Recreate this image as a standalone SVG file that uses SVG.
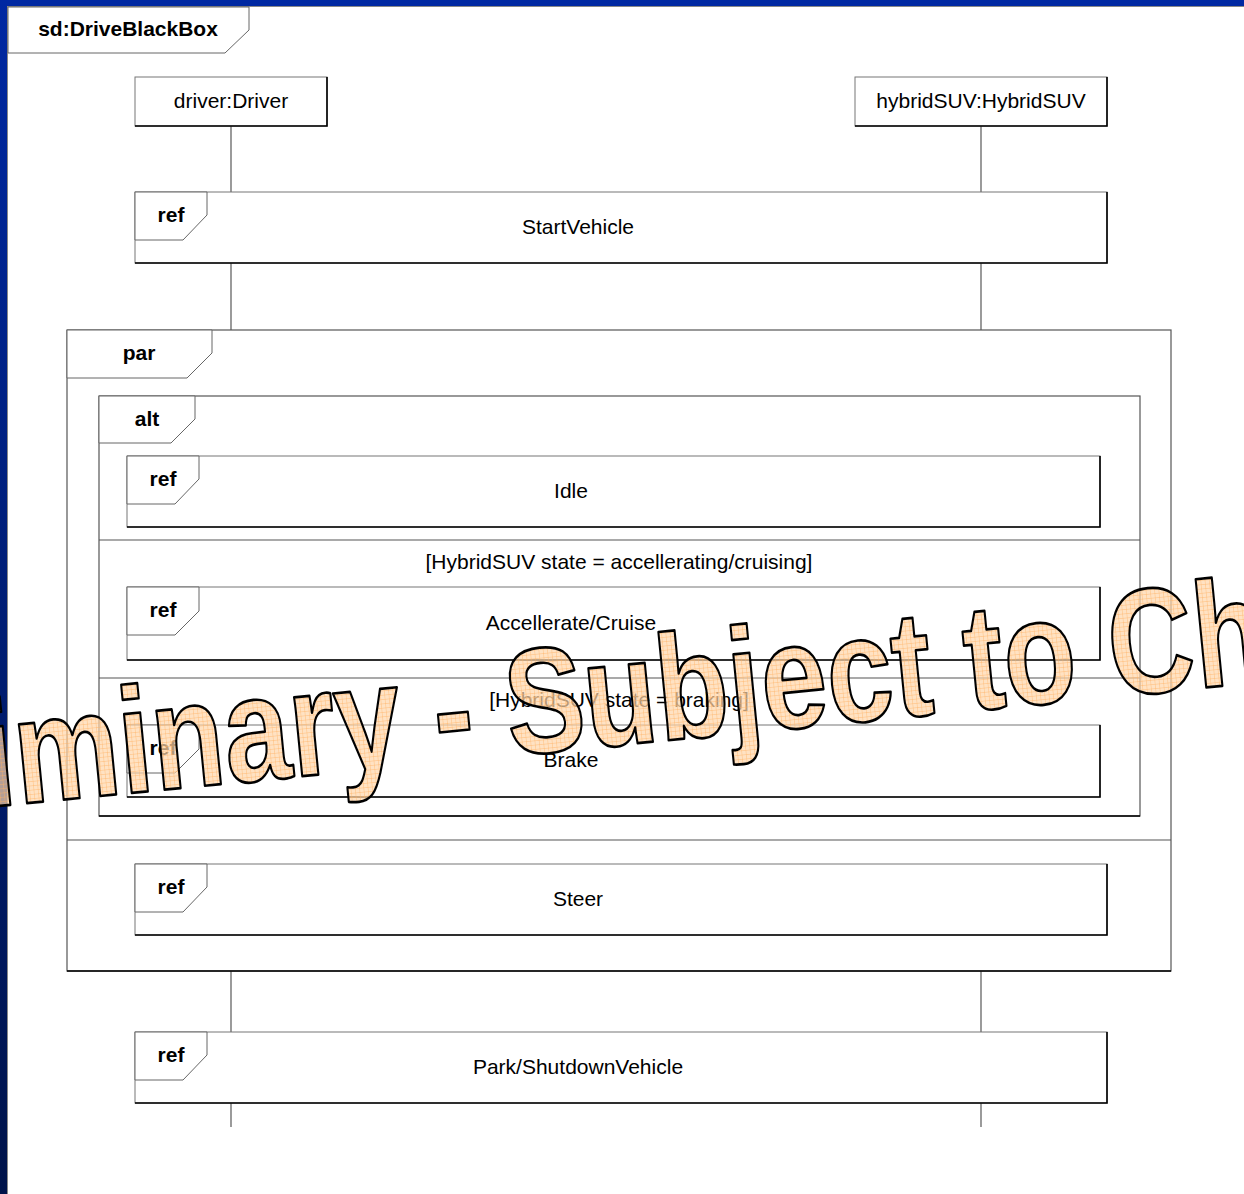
<svg xmlns="http://www.w3.org/2000/svg" width="1244" height="1194" viewBox="0 0 1244 1194">
  <style>
    text { font-family: "Liberation Sans", Arial, sans-serif; font-size: 21px; fill: #000; }
    .kw { font-weight: bold; text-anchor: middle; }
    .lbl { text-anchor: middle; }
    .box { fill: #fff; stroke: #777; stroke-width: 1; }
    .shade { fill: none; stroke: #000; stroke-width: 1.6; }
    .tag { fill: #fff; stroke: #666; stroke-width: 1; }
    .frame { fill: none; stroke: #555; stroke-width: 1.2; }
    .sep { fill: none; stroke: #555; stroke-width: 1.2; }
    .life { stroke: #666; stroke-width: 1.3; fill: none; }
    .wm { font-family: "Liberation Sans", Arial, sans-serif; font-weight: bold; font-size: 150px; fill: url(#grid); stroke: #000; stroke-width: 2.4; stroke-linejoin: round; }
  </style>
  <defs>
    <linearGradient id="edgeV" x1="0" y1="0" x2="0" y2="1">
      <stop offset="0" stop-color="#0028a2"/>
      <stop offset="1" stop-color="#00134a"/>
    </linearGradient>
    <pattern id="grid" patternUnits="userSpaceOnUse" width="5.4" height="4.3">
      <rect width="5.4" height="4.3" fill="#ffd6aa" fill-opacity="0.7"/>
      <path d="M0 0.3 H5.4 M0.3 0 V4.3" stroke="#ffb060" stroke-width="0.6" stroke-opacity="0.85"/>
    </pattern>
  </defs>

  <!-- page -->
  <rect width="1244" height="1194" fill="#fff"/>
  <rect x="0" y="0" width="1244" height="6" fill="#0028a2"/>
  <rect x="0" y="0" width="7" height="1194" fill="url(#edgeV)"/>
  <path d="M7 6.5 H1244 M7.5 6 V1194" stroke="#888" stroke-width="1"/>

  <!-- sequence diagram frame header -->
  <g id="frame-sd">
    <polygon class="tag" points="8,7 249,7 249,30 225,53 8,53"/>
    <text class="kw" x="128" y="36">sd:DriveBlackBox</text>
  </g>

  <!-- lifelines -->
  <g id="connectors">
    <path class="life" d="M231 126 V192 M231 263 V330 M231 971 V1032 M231 1103 V1127"/>
    <path class="life" d="M981 126 V192 M981 263 V330 M981 971 V1032 M981 1103 V1127"/>
  </g>

  <g id="lifeline-driver">
    <rect class="box" x="135" y="77" width="192" height="49"/>
    <path class="shade" d="M135 126 H327 V77"/>
    <text class="lbl" x="231" y="108">driver:Driver</text>
  </g>
  <g id="lifeline-hybridSUV">
    <rect class="box" x="855" y="77" width="252" height="49"/>
    <path class="shade" d="M855 126 H1107 V77"/>
    <text class="lbl" x="981" y="108">hybridSUV:HybridSUV</text>
  </g>

  <g id="ref-startvehicle">
    <rect class="box" x="135" y="192" width="972" height="71"/>
    <path class="shade" d="M135 263 H1107 V192"/>
    <polygon class="tag" points="135,192 207,192 207,215 183,240 135,240"/>
    <text class="kw" x="171" y="222">ref</text>
    <text class="lbl" x="578" y="234">StartVehicle</text>
  </g>

  <g id="par-fragment">
    <rect class="frame" x="67" y="330" width="1104" height="641"/>
    <path class="shade" d="M67 971 H1171" stroke-width="1.3"/>
    <polygon class="tag" points="67,330 212,330 212,353 187,378 67,378"/>
    <text class="kw" x="139" y="360">par</text>
    <path class="sep" d="M67 840 H1171"/>
  </g>

  <g id="alt-fragment">
    <rect class="frame" x="99" y="396" width="1041" height="420"/>
    <path class="shade" d="M99 816 H1140" stroke-width="1.3"/>
    <polygon class="tag" points="99,396 195,396 195,419 171,443 99,443"/>
    <text class="kw" x="147" y="426">alt</text>
    <path class="sep" d="M99 540 H1140 M99 678 H1140"/>
    <text class="lbl" x="619" y="569">[HybridSUV state = accellerating/cruising]</text>
    <text class="lbl" x="619" y="707">[HybridSUV state = braking]</text>
  </g>

  <g id="ref-idle">
    <rect class="box" x="127" y="456" width="973" height="71"/>
    <path class="shade" d="M127 527 H1100 V456"/>
    <polygon class="tag" points="127,456 199,456 199,479 175,504 127,504"/>
    <text class="kw" x="163" y="486">ref</text>
    <text class="lbl" x="571" y="498">Idle</text>
  </g>

  <g id="ref-accelerate">
    <rect class="box" x="127" y="587" width="973" height="73"/>
    <path class="shade" d="M127 660 H1100 V587"/>
    <polygon class="tag" points="127,587 199,587 199,611 175,635 127,635"/>
    <text class="kw" x="163" y="617">ref</text>
    <text class="lbl" x="571" y="630">Accellerate/Cruise</text>
  </g>

  <g id="ref-brake">
    <rect class="box" x="127" y="725" width="973" height="72"/>
    <path class="shade" d="M127 797 H1100 V725"/>
    <polygon class="tag" points="127,725 199,725 199,749 175,773 127,773"/>
    <text class="kw" x="163" y="755">ref</text>
    <text class="lbl" x="571" y="767">Brake</text>
  </g>

  <g id="ref-steer">
    <rect class="box" x="135" y="864" width="972" height="71"/>
    <path class="shade" d="M135 935 H1107 V864"/>
    <polygon class="tag" points="135,864 207,864 207,887 183,912 135,912"/>
    <text class="kw" x="171" y="894">ref</text>
    <text class="lbl" x="578" y="906">Steer</text>
  </g>

  <g id="ref-park">
    <rect class="box" x="135" y="1032" width="972" height="71"/>
    <path class="shade" d="M135 1103 H1107 V1032"/>
    <polygon class="tag" points="135,1032 207,1032 207,1055 183,1080 135,1080"/>
    <text class="kw" x="171" y="1062">ref</text>
    <text class="lbl" x="578" y="1074">Park/ShutdownVehicle</text>
  </g>

  <!-- draft stamp across the page -->
  <g id="stamp">
    <text class="wm" transform="translate(-237 829) rotate(-5.6) scale(0.79 1)" vector-effect="non-scaling-stroke">Preliminary - Subject to Change</text>
  </g>
</svg>
